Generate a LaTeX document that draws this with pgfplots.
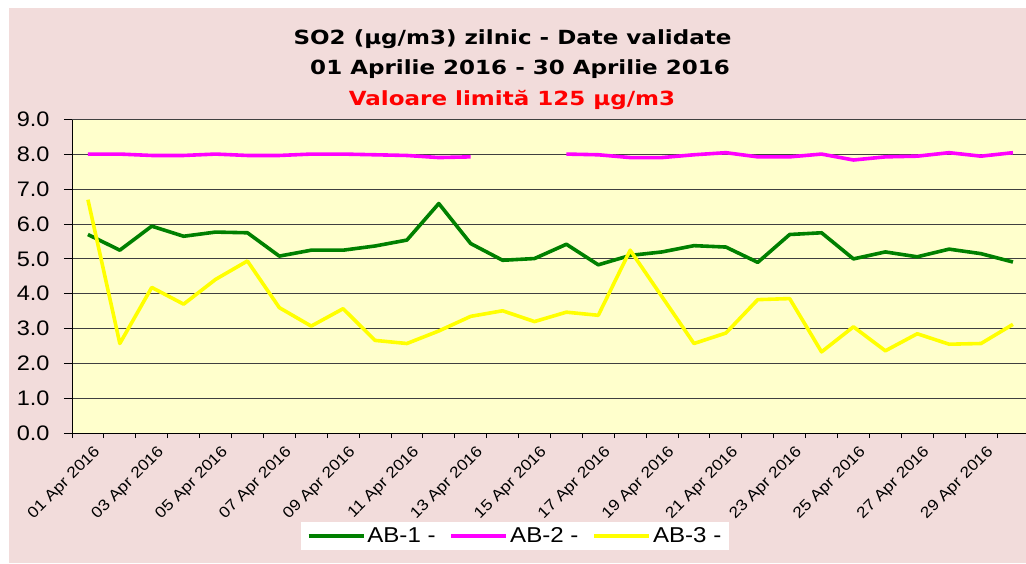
\documentclass[border=0pt]{standalone}
\usepackage{fontspec}
\setmainfont[FakeStretch=1.12]{Liberation Sans}
\newfontfamily\titlefont[FakeStretch=1.18]{DejaVu Sans}
\usepackage{pgfplots}
\usepackage{pgfplotstable}
\pgfplotsset{compat=1.18}
\definecolor{bgpink}{RGB}{242,220,219}
\definecolor{plotyellow}{RGB}{255,255,204}
\definecolor{lgreen}{RGB}{0,128,0}
\definecolor{lmag}{RGB}{255,0,255}
\definecolor{lyel}{RGB}{255,255,0}
\definecolor{gridc}{RGB}{64,64,64}

\pgfplotstableread{
day ab1 ab2 ab3
1 5.70 8.01 6.70
2 5.25 8.01 2.57
3 5.94 7.97 4.18
4 5.65 7.97 3.70
5 5.77 8.01 4.41
6 5.75 7.97 4.94
7 5.08 7.97 3.60
8 5.25 8.01 3.07
9 5.25 8.01 3.57
10 5.37 7.99 2.66
11 5.54 7.97 2.57
12 6.59 7.91 2.93
13 5.44 7.93 3.35
14 4.96 nan 3.51
15 5.01 nan 3.20
16 5.42 8.01 3.47
17 4.83 7.99 3.38
18 5.10 7.91 5.25
19 5.20 7.91 3.91
20 5.38 7.99 2.57
21 5.34 8.05 2.87
22 4.90 7.93 3.83
23 5.70 7.93 3.86
24 5.75 8.01 2.33
25 5.00 7.84 3.05
26 5.20 7.93 2.36
27 5.06 7.95 2.85
28 5.28 8.05 2.55
29 5.15 7.95 2.57
30 4.91 8.05 3.12
}\data

\begin{document}
\begin{tikzpicture}
\fill[white] (-72pt,-130pt) rectangle (954pt,433pt);
\fill[bgpink] (-63pt,-130pt) rectangle (954pt,425pt);
\begin{axis}[
  scale only axis,
  width=954pt, height=313.4pt,
  xmin=0.5, xmax=30.41,
  ymin=0, ymax=9,
  axis x line*=bottom, axis y line*=left,
  axis line style={black, line width=0.9pt, -},
  axis background/.style={fill=plotyellow},
  ytick={0,1,...,9},
  yticklabels={0.0,1.0,2.0,3.0,4.0,5.0,6.0,7.0,8.0,9.0},
  ymajorgrids,
  major grid style={gridc, line width=0.9pt},
  tick align=outside,
  major tick length=8pt,
  tick style={black, line width=0.9pt},
  yticklabel style={font=\fontsize{21}{21}\selectfont, anchor=east, xshift=-11pt},
  xtick={1,3,...,29},
  xticklabels={01 Apr 2016,03 Apr 2016,05 Apr 2016,07 Apr 2016,09 Apr 2016,11 Apr 2016,13 Apr 2016,15 Apr 2016,17 Apr 2016,19 Apr 2016,21 Apr 2016,23 Apr 2016,25 Apr 2016,27 Apr 2016,29 Apr 2016},
  xtick style={draw=none},
  xticklabel style={font=\fontsize{15.5}{16}\selectfont, rotate=45, anchor=north east, inner sep=0pt, xshift=1pt, yshift=-6pt},
  extra x ticks={0.5,1.5,...,30.5},
  extra x tick labels={},
  extra x tick style={xtick style={draw=black}, major tick length=5pt},
  unbounded coords=jump,
  legend columns=3,
  legend style={at={(axis description cs:0.4644,-0.3285)}, anchor=center, draw=none, fill=white,
    font=\fontsize{21.5}{22}\selectfont, inner xsep=6pt, inner ysep=4pt,
    /tikz/every even column/.append style={column sep=12pt}},
  legend image code/.code={\draw[#1] (0pt,0pt) -- (55pt,0pt);},
]
\addplot[lgreen, line width=3.6pt, line join=round] table[x=day, y=ab1] {\data};
\addlegendentry{AB-1 -}
\addplot[lmag, line width=3.6pt, line join=round] table[x=day, y=ab2] {\data};
\addlegendentry{AB-2 -}
\addplot[lyel, line width=3.6pt, line join=round] table[x=day, y=ab3] {\data};
\addlegendentry{AB-3 -}
\end{axis}
\node[anchor=base, inner sep=0pt] at (440.5pt,388pt) {\titlefont\bfseries\fontsize{19.5}{20}\selectfont SO2 (µg/m3) zilnic - Date validate};
\node[anchor=base, inner sep=0pt] at (448pt,358pt) {\titlefont\bfseries\fontsize{19.5}{20}\selectfont 01 Aprilie 2016 - 30 Aprilie 2016};
\node[anchor=base, inner sep=0pt, text=red] at (440pt,327pt) {\titlefont\bfseries\fontsize{19.5}{20}\selectfont Valoare limită 125 µg/m3};
\pgfresetboundingbox
\useasboundingbox (-72pt,-130pt) rectangle (954pt,433pt);
\end{tikzpicture}
\end{document}
